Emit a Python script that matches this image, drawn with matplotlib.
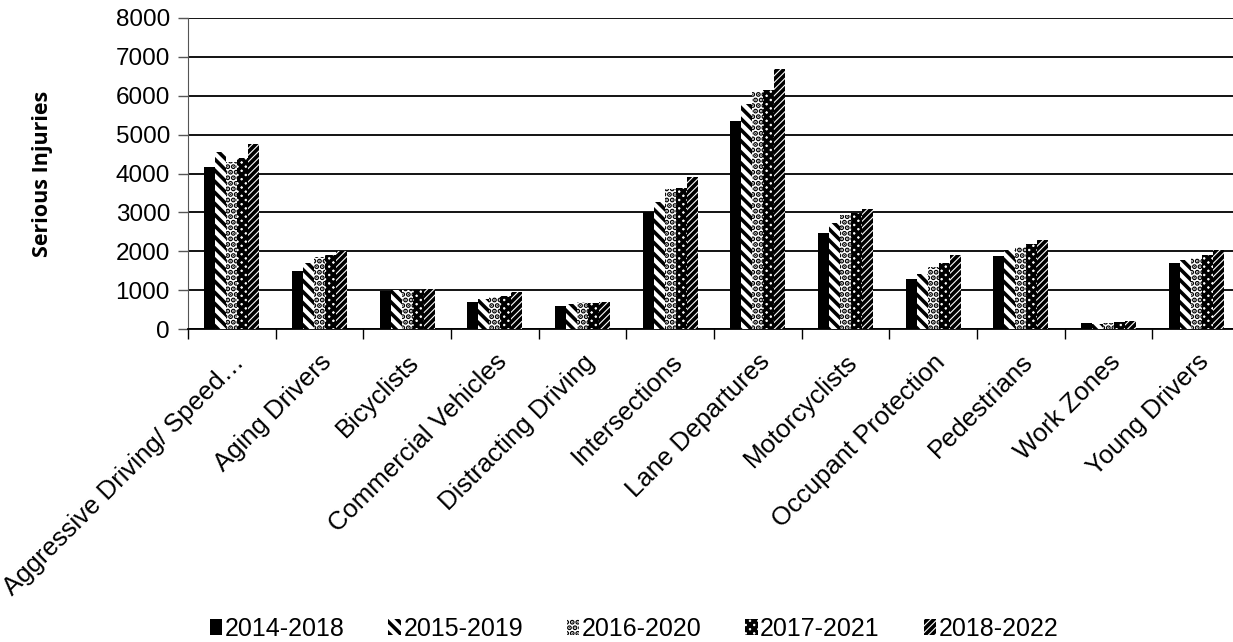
import matplotlib
matplotlib.use("Agg")
import matplotlib.pyplot as plt
import matplotlib.transforms as mtransforms
import numpy as np

categories = ["Aggressive Driving/ Speed…", "Aging Drivers", "Bicyclists", "Commercial Vehicles",
              "Distracting Driving", "Intersections", "Lane Departures", "Motorcyclists",
              "Occupant Protection", "Pedestrians", "Work Zones", "Young Drivers"]
series_names = ["2014-2018", "2015-2019", "2016-2020", "2017-2021", "2018-2022"]
s2014_2018 = [4170, 1500, 990, 690, 590, 3010, 5350, 2480, 1280, 1880, 145, 1690]
s2015_2019 = [4560, 1700, 1000, 770, 650, 3270, 5800, 2720, 1410, 2030, 130, 1770]
s2016_2020 = [4300, 1850, 1000, 830, 690, 3600, 6100, 2930, 1600, 2100, 150, 1830]
s2017_2021 = [4400, 1900, 1010, 860, 660, 3620, 6150, 2980, 1700, 2180, 170, 1900]
s2018_2022 = [4760, 2000, 1020, 960, 690, 3920, 6690, 3080, 1900, 2300, 200, 2030]
series = [s2014_2018, s2015_2019, s2016_2020, s2017_2021, s2018_2022]
y_ticks = [0, 1000, 2000, 3000, 4000, 5000, 6000, 7000, 8000]

hatches = [None, "\\\\\\", "...", "xxxx", "/////"]
faces = ["black", "white", "white", "white", "white"]

plt.rcParams["hatch.linewidth"] = 2.6
plt.rcParams["font.family"] = ["Liberation Sans", "DejaVu Sans"]

fig = plt.figure(figsize=(12.33, 6.42), dpi=100)
ax = fig.add_axes([188 / 1233, 1 - 329 / 642, (1240 - 188) / 1233, (329 - 18) / 642])

x = np.arange(len(categories))
bw = 0.125
for i, (vals, name) in enumerate(zip(series, series_names)):
    off = (i - 2) * bw
    ax.bar(x + off, vals, width=bw, color=faces[i], edgecolor="black",
           hatch=hatches[i], linewidth=0, label=name, zorder=3)

ax.set_xlim(-0.5, len(categories) - 0.5)
ax.set_ylim(0, 8000)
ax.set_yticks(y_ticks)
ax.set_yticklabels([str(v) for v in y_ticks], fontsize=17.5)
ax.yaxis.grid(True, color="black", linewidth=1.3, zorder=0)
ax.set_axisbelow(True)

ax.set_xticks(np.arange(len(categories) + 1) - 0.5)
ax.set_xticklabels([])
ax.set_xticks(x, minor=True)
ax.set_xticklabels(categories, minor=True, rotation=45, ha="right", va="top",
                   rotation_mode="anchor", fontsize=18.5)
for k, lab in enumerate(ax.get_xticklabels(minor=True)):
    dx, dy = (0.08, 0.0) if k else (0.22, 0.22)
    lab.set_transform(lab.get_transform() + mtransforms.ScaledTranslation(dx, dy, fig.dpi_scale_trans))
ax.tick_params(axis="x", which="minor", length=0, pad=15)
ax.tick_params(axis="x", which="major", length=7, direction="out", width=1)
ax.tick_params(axis="y", length=7, direction="out", width=1, colors="#555555", labelcolor="black", pad=6)

for s in ["top", "right"]:
    ax.spines[s].set_visible(False)
ax.spines["left"].set_color("#555555")
ax.spines["bottom"].set_color("black")
ax.spines["bottom"].set_linewidth(1.3)

ax.set_ylabel("Serious Injuries", fontsize=15.5, fontweight="bold",
              family=["Open Sans", "DejaVu Sans"])
ax.yaxis.set_label_coords(53 / 1233, 1 - 174 / 642, transform=fig.transFigure)

fig.legend(loc="center", bbox_to_anchor=(634 / 1233, 1 - 629 / 642), ncol=5, frameon=False,
           fontsize=18, handlelength=0.5, handleheight=0.6, handletextpad=0.1,
           columnspacing=1.75)

fig.savefig("out.png", dpi=100)
